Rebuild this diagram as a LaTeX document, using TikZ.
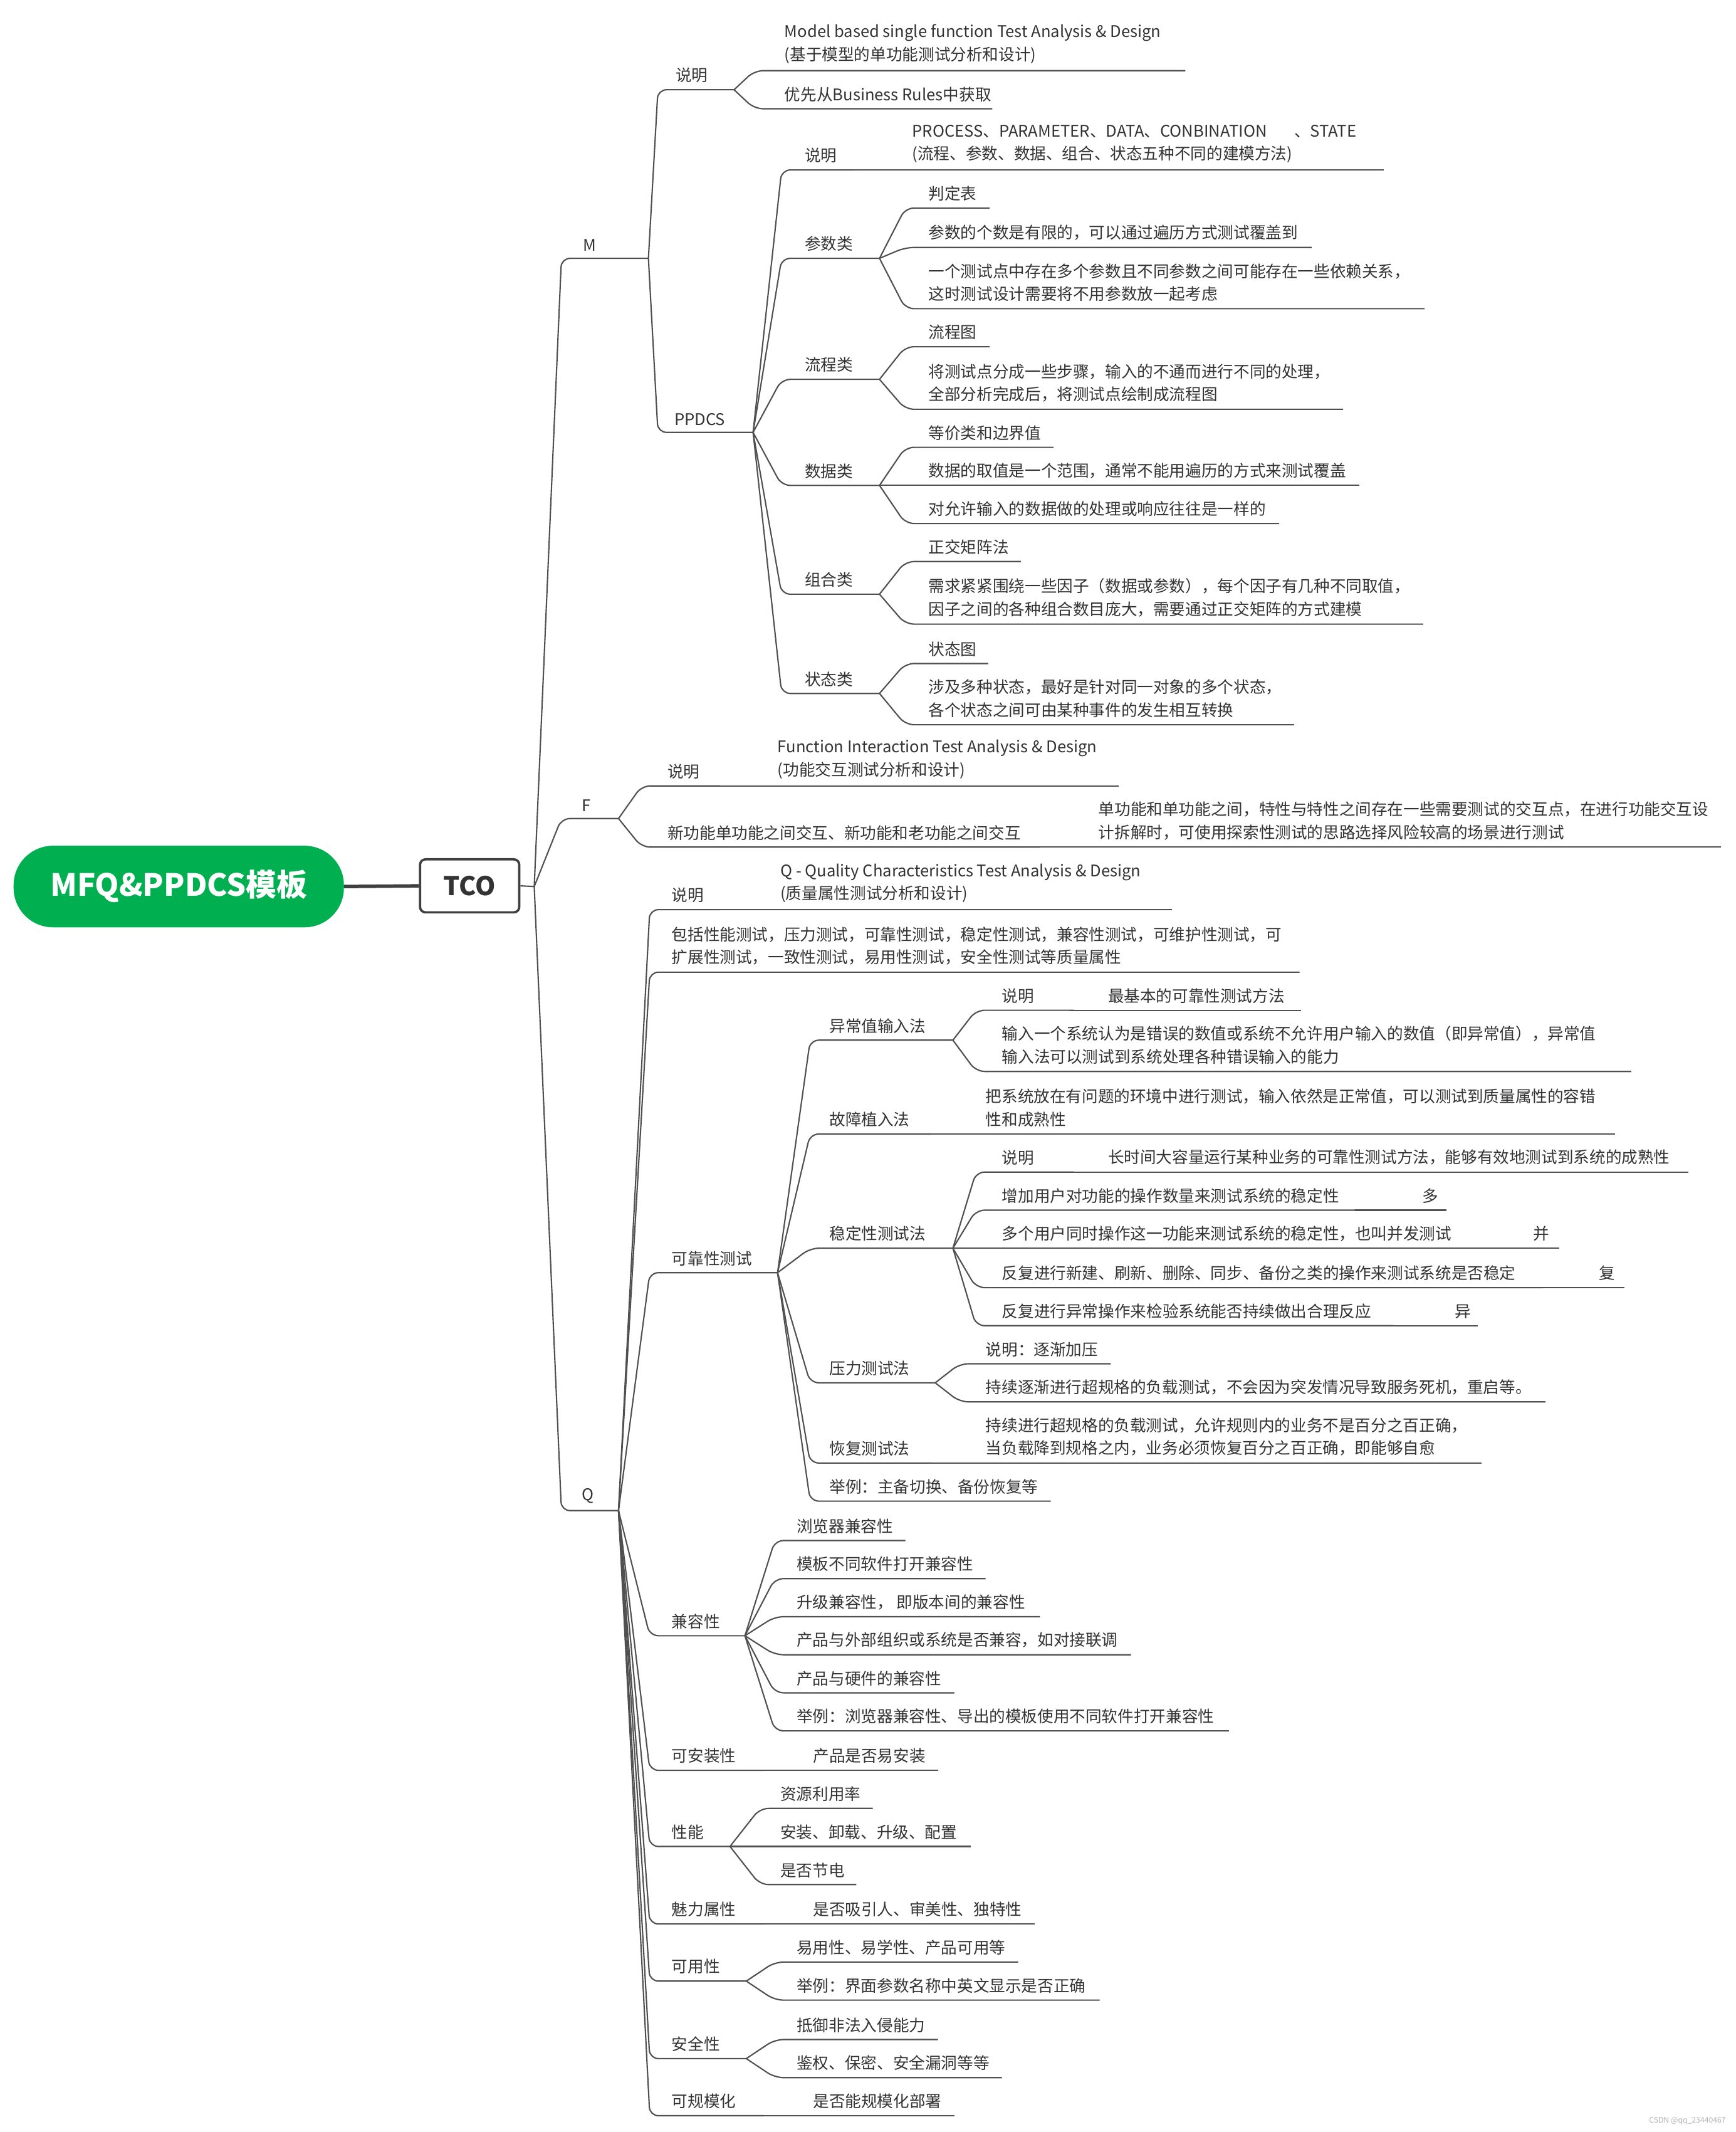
\documentclass[tikz,border=0pt]{standalone}
\usepackage{fontspec}
\setmainfont{Noto Sans CJK SC}
\definecolor{rootgreen}{HTML}{00B050}
\definecolor{linegray}{HTML}{505050}
\definecolor{textgray}{HTML}{333333}
\definecolor{boxgray}{HTML}{3F3F3F}
\newcommand{\mapfont}{\fontsize{16.8pt}{24.2pt}\selectfont}
\newcommand{\rootfont}{\fontsize{32pt}{36pt}\selectfont\bfseries}
\newcommand{\tcofont}{\fontsize{27pt}{30pt}\selectfont\bfseries}
\tikzset{
  topic/.style={anchor=south west, inner sep=0pt, align=left, font=\mapfont, text=textgray},
  branch/.style={draw=linegray, line width=1.4pt, rounded corners=9pt},
  trunk/.style={draw=boxgray, line width=3.6pt},
  rootbox/.style={rectangle, rounded corners=1.45cm, fill=rootgreen, text=white, font=\rootfont,
                  minimum width=12.15cm, minimum height=3cm, inner sep=0pt},
  tcobox/.style={rectangle, rounded corners=0.2cm, draw=boxgray, line width=2.4pt, fill=white,
                 text=textgray, font=\tcofont, minimum width=3.65cm, minimum height=1.95cm, inner sep=0pt},
}
% name, parent, corner x, line y, end x, text x, text
\newcommand{\mmtopic}[7]{%
  \coordinate (#1-l) at (#3,#4);
  \coordinate (#1-r) at (#5,#4);
  \node[topic] (#1) at (#6,#4-5) {#7};
  \draw[branch] (#2-r) -- (#1-l) -- (#1-r);
}
\begin{document}
\begin{tikzpicture}[x=0.05cm, y=-0.05cm]
  \fill[white] (0,0) rectangle (1277,1568);
  \useasboundingbox (0,0) rectangle (1277,1568);

  \node[rootbox] (root) at (131.5,652) {MFQ\&PPDCS模板};
  \node[tcobox] (tco) at (345.5,651.5) {TCO};
  \coordinate (tco-r) at (393,652);
  \draw[trunk] (root.east) -- (tco.west);
  \draw[branch] (tco.east) -- (tco-r);

  \mmtopic{m}{tco}{413}{190}{477}{429}{M}
  \mmtopic{f}{tco}{413}{602}{455}{428}{F}
  \mmtopic{q}{tco}{413}{1111}{455}{428}{Q}

  % M
  \mmtopic{msm}{m}{484}{66}{540}{497}{说明}
  \mmtopic{msa}{msm}{555}{52}{872}{577}{Model based single function Test Analysis \& Design\\(基于模型的单功能测试分析和设计)}
  \mmtopic{msb}{msm}{555}{80}{730}{577}{优先从Business Rules中获取}
  \mmtopic{pp}{m}{484}{318}{554}{496}{PPDCS}
  \mmtopic{psm}{pp}{575}{125}{628}{592}{说明}
  \mmtopic{psa}{psm}{631}{125}{1018}{671}{PROCESS、PARAMETER、DATA、CONBINATION\hspace{1.7em}、STATE\\(流程、参数、数据、组合、状态五种不同的建模方法)}
  \mmtopic{pcs}{pp}{575}{190}{647}{592}{参数类}
  \mmtopic{pca}{pcs}{666}{153}{728}{683}{判定表}
  \mmtopic{pcb}{pcs}{666}{182}{965}{683}{参数的个数是有限的，可以通过遍历方式测试覆盖到}
  \mmtopic{pcc}{pcs}{666}{227}{1048}{683}{一个测试点中存在多个参数且不同参数之间可能存在一些依赖关系，\\这时测试设计需要将不用参数放一起考虑}
  \mmtopic{plc}{pp}{575}{279}{647}{592}{流程类}
  \mmtopic{pla}{plc}{666}{255}{728}{683}{流程图}
  \mmtopic{plb}{plc}{666}{301}{988}{683}{将测试点分成一些步骤，输入的不通而进行不同的处理，\\全部分析完成后，将测试点绘制成流程图}
  \mmtopic{pdc}{pp}{575}{357}{647}{592}{数据类}
  \mmtopic{pda}{pdc}{666}{329}{775}{683}{等价类和边界值}
  \mmtopic{pdb}{pdc}{666}{357}{1000}{683}{数据的取值是一个范围，通常不能用遍历的方式来测试覆盖}
  \mmtopic{pdd}{pdc}{666}{385}{941}{683}{对允许输入的数据做的处理或响应往往是一样的}
  \mmtopic{pzc}{pp}{575}{437}{647}{592}{组合类}
  \mmtopic{pza}{pzc}{666}{413}{751}{683}{正交矩阵法}
  \mmtopic{pzb}{pzc}{666}{459}{1047}{683}{需求紧紧围绕一些因子（数据或参数），每个因子有几种不同取值，\\因子之间的各种组合数目庞大，需要通过正交矩阵的方式建模}
  \mmtopic{ptc}{pp}{575}{510}{647}{592}{状态类}
  \mmtopic{pta}{ptc}{666}{488}{727}{683}{状态图}
  \mmtopic{ptb}{ptc}{666}{533}{952}{683}{涉及多种状态，最好是针对同一对象的多个状态，\\各个状态之间可由某种事件的发生相互转换}

  % F
  \mmtopic{fsm}{f}{472}{578}{530}{491}{说明}
  \mmtopic{fsa}{fsm}{533}{578}{823}{572}{Function Interaction Test Analysis \& Design\\(功能交互测试分析和设计)}
  \mmtopic{fjh}{f}{472}{623}{765}{491}{新功能单功能之间交互、新功能和老功能之间交互}
  \mmtopic{fja}{fjh}{768}{623}{1266}{808}{单功能和单功能之间，特性与特性之间存在一些需要测试的交互点，在进行功能交互设\\计拆解时，可使用探索性测试的思路选择风险较高的场景进行测试}

  % Q
  \mmtopic{qsm}{q}{478}{669}{530}{494}{说明}
  \mmtopic{qsa}{qsm}{533}{669}{862}{574}{Q - Quality Characteristics Test Analysis \& Design\\(质量属性测试分析和设计)}
  \mmtopic{qbk}{q}{478}{715}{956}{494}{包括性能测试，压力测试，可靠性测试，稳定性测试，兼容性测试，可维护性测试，可\\扩展性测试，一致性测试，易用性测试，安全性测试等质量属性}
  \mmtopic{qkk}{q}{478}{936}{572}{494}{可靠性测试}
  \mmtopic{kyc}{qkk}{596}{765}{701}{610}{异常值输入法}
  \mmtopic{ycs}{kyc}{718}{743}{790}{737}{说明}
  \mmtopic{ycsa}{ycs}{793}{743}{957}{815}{最基本的可靠性测试方法}
  \mmtopic{ycb}{kyc}{718}{788}{1200}{737}{输入一个系统认为是错误的数值或系统不允许用户输入的数值（即异常值），异常值\\输入法可以测试到系统处理各种错误输入的能力}
  \mmtopic{kgz}{qkk}{596}{834}{685}{610}{故障植入法}
  \mmtopic{kgza}{kgz}{688}{834}{1188}{725}{把系统放在有问题的环境中进行测试，输入依然是正常值，可以测试到质量属性的容错\\性和成熟性}
  \mmtopic{kwd}{qkk}{596}{918}{701}{610}{稳定性测试法}
  \mmtopic{wds}{kwd}{718}{862}{790}{737}{说明}
  \mmtopic{wdsa}{wds}{793}{862}{1242}{815}{长时间大容量运行某种业务的可靠性测试方法，能够有效地测试到系统的成熟性}
  \mmtopic{wda}{kwd}{718}{890}{1000}{737}{增加用户对功能的操作数量来测试系统的稳定性}
  \mmtopic{wdaa}{wda}{1003}{890}{1064}{1046}{多}
  \mmtopic{wdb}{kwd}{718}{918}{1085}{737}{多个用户同时操作这一功能来测试系统的稳定性，也叫并发测试}
  \mmtopic{wdba}{wdb}{1088}{918}{1147}{1128}{并}
  \mmtopic{wdc}{kwd}{718}{947}{1135}{737}{反复进行新建、刷新、删除、同步、备份之类的操作来测试系统是否稳定}
  \mmtopic{wdca}{wdc}{1138}{947}{1195}{1176}{复}
  \mmtopic{wdd}{kwd}{718}{975}{1025}{737}{反复进行异常操作来检验系统能否持续做出合理反应}
  \mmtopic{wdda}{wdd}{1028}{975}{1087}{1070}{异}
  \mmtopic{kyl}{qkk}{596}{1017}{688}{610}{压力测试法}
  \mmtopic{yla}{kyl}{706}{1003}{817}{725}{说明：逐渐加压}
  \mmtopic{ylb}{kyl}{706}{1031}{1137}{725}{持续逐渐进行超规格的负载测试，不会因为突发情况导致服务死机，重启等。}
  \mmtopic{khf}{qkk}{596}{1076}{685}{610}{恢复测试法}
  \mmtopic{khfa}{khf}{688}{1076}{1090}{725}{持续进行超规格的负载测试，允许规则内的业务不是百分之百正确，\\当负载降到规格之内，业务必须恢复百分之百正确，即能够自愈}
  \mmtopic{kjl}{qkk}{596}{1104}{773}{610}{举例：主备切换、备份恢复等}
  \mmtopic{qjr}{q}{478}{1203}{548}{494}{兼容性}
  \mmtopic{jra}{qjr}{570}{1133}{666}{586}{浏览器兼容性}
  \mmtopic{jrb}{qjr}{570}{1161}{725}{586}{模板不同软件打开兼容性}
  \mmtopic{jrc}{qjr}{570}{1189}{765}{586}{升级兼容性， 即版本间的兼容性}
  \mmtopic{jrd}{qjr}{570}{1217}{832}{586}{产品与外部组织或系统是否兼容，如对接联调}
  \mmtopic{jre}{qjr}{570}{1245}{702}{586}{产品与硬件的兼容性}
  \mmtopic{jrf}{qjr}{570}{1273}{904}{586}{举例：浏览器兼容性、导出的模板使用不同软件打开兼容性}
  \mmtopic{qaz}{q}{478}{1302}{562}{494}{可安装性}
  \mmtopic{qaza}{qaz}{565}{1302}{690}{598}{产品是否易安装}
  \mmtopic{qxn}{q}{478}{1358}{537}{494}{性能}
  \mmtopic{xna}{qxn}{559}{1330}{642}{574}{资源利用率}
  \mmtopic{xnb}{qxn}{559}{1358}{714}{574}{安装、卸载、升级、配置}
  \mmtopic{xnc}{qxn}{559}{1386}{630}{574}{是否节电}
  \mmtopic{qml}{q}{478}{1415}{562}{494}{魅力属性}
  \mmtopic{qmla}{qml}{565}{1415}{761}{598}{是否吸引人、审美性、独特性}
  \mmtopic{qky}{q}{478}{1457}{549}{494}{可用性}
  \mmtopic{kya}{qky}{570}{1443}{749}{586}{易用性、易学性、产品可用等}
  \mmtopic{kyb}{qky}{570}{1471}{809}{586}{举例：界面参数名称中英文显示是否正确}
  \mmtopic{qaq}{q}{478}{1514}{549}{494}{安全性}
  \mmtopic{aqa}{qaq}{570}{1500}{690}{586}{抵御非法入侵能力}
  \mmtopic{aqb}{qaq}{570}{1528}{737}{586}{鉴权、保密、安全漏洞等等}
  \mmtopic{qgm}{q}{478}{1556}{562}{494}{可规模化}
  \mmtopic{qgma}{qgm}{565}{1556}{702}{598}{是否能规模化部署}

  \node[font=\fontsize{8}{9}\selectfont, text=gray!60, anchor=east] (mark) at (1272,1560) {CSDN @qq\_23440467};
\end{tikzpicture}
\end{document}
